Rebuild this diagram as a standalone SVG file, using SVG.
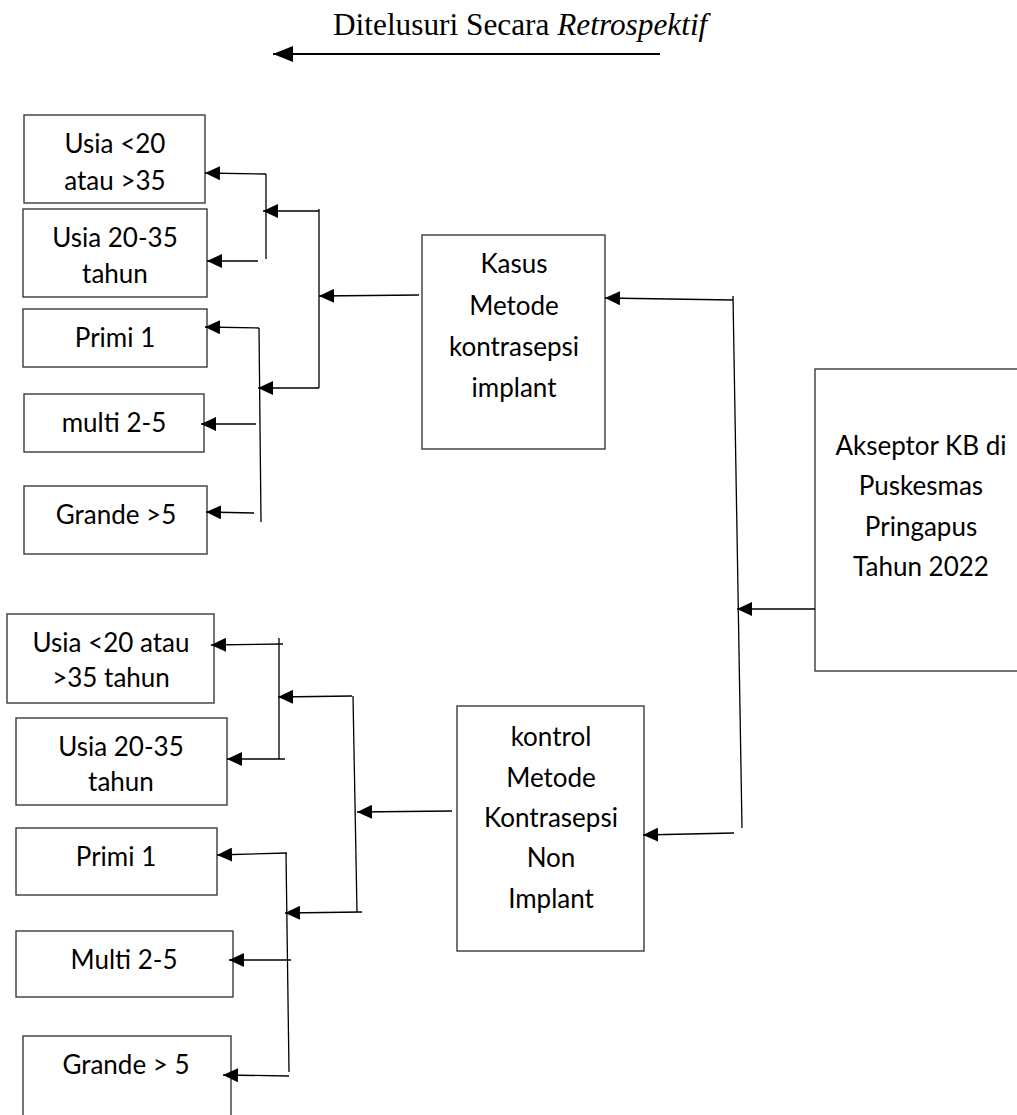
<svg xmlns="http://www.w3.org/2000/svg" width="1017" height="1115" viewBox="0 0 1017 1115">
<style>
.box{fill:#fff;stroke:#3a3a3a;stroke-width:1.4}
.t{font-family:Lato,"Open Sans","Noto Sans",sans-serif;font-size:26px;fill:#000;text-anchor:middle}
.c{stroke:#000;stroke-width:1.3;fill:none}
.a{stroke:#000;stroke-width:1.3;fill:none;marker-end:url(#ah)}
.ttl{font-family:"Liberation Serif","Times New Roman",serif;font-size:31.3px;fill:#000}
</style>
<defs>
<marker id="ah" markerWidth="16" markerHeight="14" refX="15" refY="7" orient="auto" markerUnits="userSpaceOnUse"><path d="M0,0 L15,7 L0,14 Z" fill="#000"/></marker>
<marker id="ah2" markerWidth="21" markerHeight="16" refX="20" refY="8" orient="auto" markerUnits="userSpaceOnUse"><path d="M0,0 L20,8 L0,16 Z" fill="#000"/></marker>
</defs>
<g id="title">
<text class="ttl" x="333" y="35">Ditelusuri Secara <tspan font-style="italic">Retrospektif</tspan></text>
<line x1="660" y1="54" x2="273" y2="54" stroke="#000" stroke-width="2" marker-end="url(#ah2)"/>
</g>
<g id="akseptor"><rect class="box" x="815" y="369" width="220" height="302"/>
<text class="t" x="921" y="455">Akseptor KB di</text><text class="t" x="921" y="495">Puskesmas</text><text class="t" x="921" y="536">Pringapus</text><text class="t" x="921" y="576">Tahun 2022</text></g>
<g id="kasus"><rect class="box" x="422" y="235" width="183" height="214"/>
<text class="t" x="514" y="273">Kasus</text><text class="t" x="514" y="315">Metode</text><text class="t" x="514" y="356">kontrasepsi</text><text class="t" x="514" y="397">implant</text></g>
<g id="kontrol"><rect class="box" x="457" y="706" width="187" height="245"/>
<text class="t" x="551" y="746">kontrol</text><text class="t" x="551" y="787">Metode</text><text class="t" x="551" y="827">Kontrasepsi</text><text class="t" x="551" y="867">Non</text><text class="t" x="551" y="908">Implant</text></g>
<g id="b1"><rect class="box" x="24" y="115" width="181" height="88"/><text class="t" x="115" y="153">Usia &lt;20</text><text class="t" x="115" y="190">atau &gt;35</text></g>
<g id="b2"><rect class="box" x="23" y="209" width="184" height="88"/><text class="t" x="115" y="247">Usia 20-35</text><text class="t" x="115" y="283">tahun</text></g>
<g id="b3"><rect class="box" x="23" y="309" width="184" height="58"/><text class="t" x="115" y="347">Primi 1</text></g>
<g id="b4"><rect class="box" x="24" y="394" width="180" height="58"/><text class="t" x="114" y="432">multi 2-5</text></g>
<g id="b5"><rect class="box" x="24" y="486" width="183" height="68"/><text class="t" x="116" y="524">Grande &gt;5</text></g>
<g id="b6"><rect class="box" x="7" y="614" width="207" height="89"/><text class="t" x="111" y="652">Usia &lt;20 atau</text><text class="t" x="111" y="687">&gt;35 tahun</text></g>
<g id="b7"><rect class="box" x="16" y="718" width="211" height="87"/><text class="t" x="121" y="756">Usia 20-35</text><text class="t" x="121" y="791">tahun</text></g>
<g id="b8"><rect class="box" x="16" y="828" width="201" height="67"/><text class="t" x="116" y="866">Primi 1</text></g>
<g id="b9"><rect class="box" x="16" y="931" width="217" height="66"/><text class="t" x="124" y="969">Multi 2-5</text></g>
<g id="b10"><rect class="box" x="23" y="1036" width="208" height="100"/><text class="t" x="126" y="1074">Grande &gt; 5</text></g>
<g id="connectors">
<line class="c" x1="733" y1="296" x2="742" y2="828"/>
<line class="a" x1="733" y1="300" x2="605" y2="298"/>
<line class="a" x1="815" y1="609" x2="737" y2="609"/>
<line class="a" x1="734" y1="833" x2="643" y2="835"/>
<line class="a" x1="419" y1="295" x2="319" y2="296"/>
<line class="c" x1="319" y1="209" x2="319" y2="388"/>
<line class="a" x1="319" y1="211" x2="263" y2="211"/>
<line class="a" x1="319" y1="388" x2="258" y2="388"/>
<line class="c" x1="266" y1="174" x2="266" y2="259"/>
<line class="a" x1="266" y1="174" x2="205" y2="173"/>
<line class="a" x1="258" y1="261" x2="207" y2="261"/>
<line class="c" x1="259" y1="328" x2="261" y2="522"/>
<line class="a" x1="259" y1="328" x2="205" y2="327"/>
<line class="a" x1="256" y1="424" x2="201" y2="424"/>
<line class="a" x1="254" y1="513" x2="206" y2="512"/>
<line class="a" x1="452" y1="811" x2="357" y2="812"/>
<line class="c" x1="353" y1="696" x2="357" y2="912"/>
<line class="a" x1="352" y1="696" x2="278" y2="697"/>
<line class="a" x1="362" y1="912" x2="285" y2="913"/>
<line class="c" x1="279" y1="638" x2="279" y2="759"/>
<line class="a" x1="283" y1="644" x2="211" y2="645"/>
<line class="a" x1="285" y1="759" x2="227" y2="759"/>
<line class="c" x1="286" y1="853" x2="289" y2="1072"/>
<line class="a" x1="287" y1="853" x2="217" y2="855"/>
<line class="a" x1="291" y1="960" x2="229" y2="960"/>
<line class="a" x1="289" y1="1076" x2="223" y2="1075"/>
</g>
</svg>
